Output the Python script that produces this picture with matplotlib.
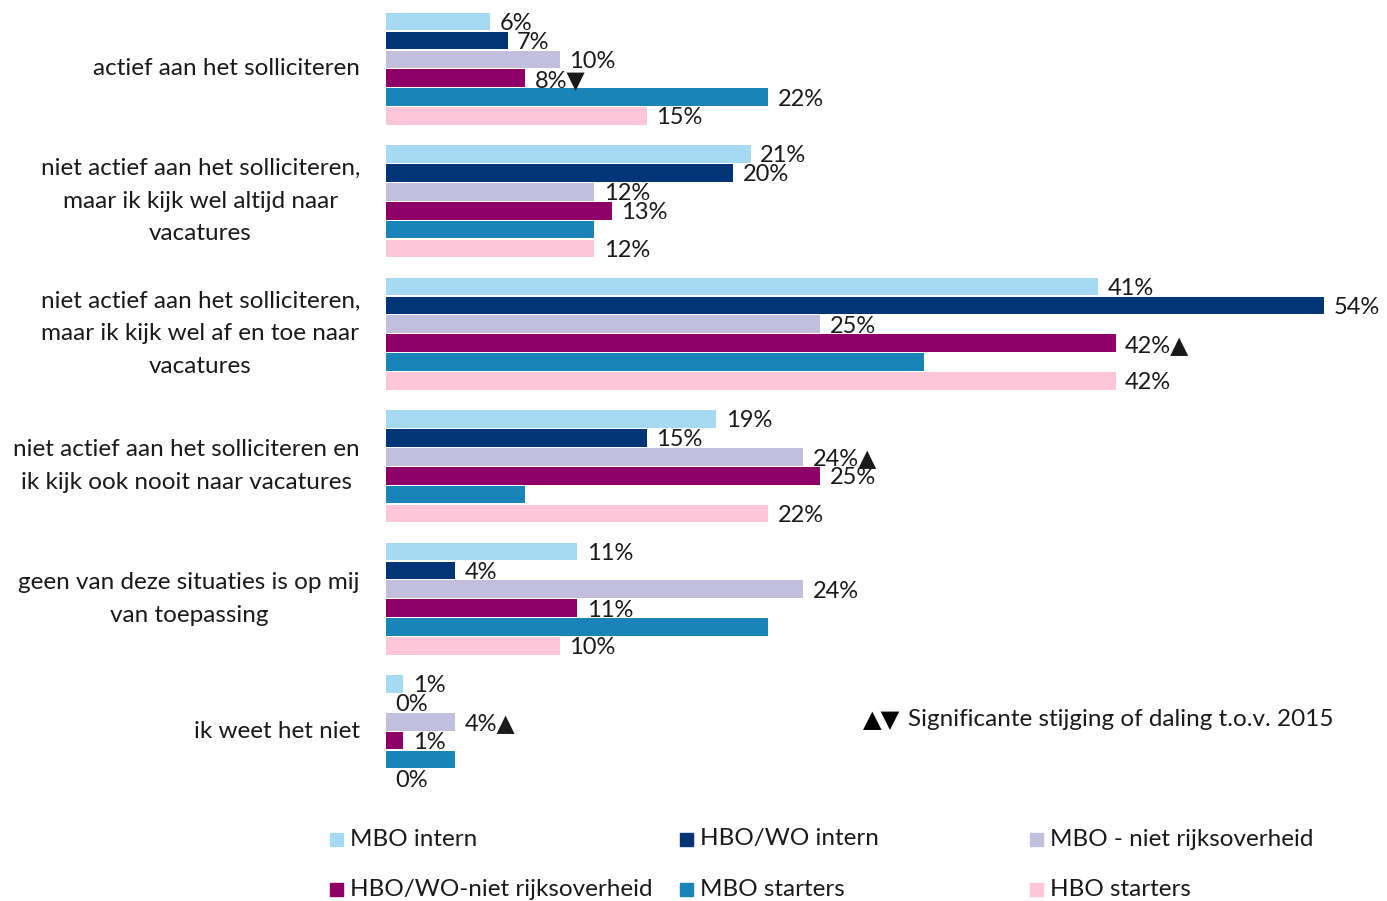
import numpy as np
import matplotlib.pyplot as plt
from matplotlib.patches import Rectangle

plt.rcParams['font.family'] = ['Lato', 'DejaVu Sans']

categories = ['actief aan het solliciteren',
              'niet actief aan het solliciteren,\nmaar ik kijk wel altijd naar\nvacatures',
              'niet actief aan het solliciteren,\nmaar ik kijk wel af en toe naar\nvacatures',
              'niet actief aan het solliciteren en\nik kijk ook nooit naar vacatures',
              'geen van deze situaties is op mij\nvan toepassing',
              'ik weet het niet']

series = ['MBO intern', 'HBO/WO intern', 'MBO - niet rijksoverheid',
          'HBO/WO-niet rijksoverheid', 'MBO starters', 'HBO starters']
colors = ['#A6DAF3', '#023575', '#C2BEDD', '#8E0068', '#1A84B8', '#FFC6DA']

mbo_intern = [6, 21, 41, 19, 11, 1]
hbo_intern = [7, 20, 54, 15, 4, 0]
mbo_niet_rijks = [10, 12, 25, 24, 24, 4]
hbo_niet_rijks = [8, 13, 42, 25, 11, 1]
mbo_starters = [22, 12, 31, 8, 22, 4]
hbo_starters = [15, 12, 42, 22, 10, 0]
values = [mbo_intern, hbo_intern, mbo_niet_rijks, hbo_niet_rijks, mbo_starters, hbo_starters]

# significance marks per series (▲ stijging, ▼ daling)
marks_mbo_niet_rijks = ['', '', '', '▲', '', '▲']
marks_hbo_niet_rijks = ['▼', '', '▲', '', '', '']
marks = [[''] * 6, [''] * 6, marks_mbo_niet_rijks, marks_hbo_niet_rijks, [''] * 6, [''] * 6]

# which value labels are visible in the original
show_mbo_starters = [True, False, False, False, False, False]
shown = [[True] * 6, [True] * 6, [True] * 6, [True] * 6, show_mbo_starters, [True] * 6]

fig = plt.figure(figsize=(13.87, 9.01), dpi=100)
ax = fig.add_axes([386 / 1387, 1 - 788 / 901, (1324 - 386) / 1387, 776 / 901])

n_ser = len(series)
slot = n_ser + 1
fs = 17.5

for j in range(n_ser):
    y = np.arange(len(categories)) * slot + j + 0.5
    ax.barh(y, values[j], height=0.93, color=colors[j])
    for i in range(len(categories)):
        if not shown[j][i]:
            continue
        ax.text(values[j][i] + 0.55, y[i] + 0.1, f'{values[j][i]}%' + marks[j][i],
                va='center', ha='left', fontsize=17, color='#1a1a1a', clip_on=False)

ax.set_xlim(0, 54)
ax.set_ylim(len(categories) * slot - 1, 0)
ax.axis('off')

for i, cat in enumerate(categories):
    yc = i * slot + n_ser / 2
    ax.text(-1.5, yc, cat, ha='right', va='center', multialignment='center',
            fontsize=fs, linespacing=1.68, color='#1a1a1a')

# legend, 3 per row
for k, name in enumerate(series):
    col, row = k % 3, k // 3
    x = (330 + col * 350) / 1387
    yy = 1 - (839 + row * 50) / 901
    fig.add_artist(Rectangle((x, yy - 7 / 901), 13 / 1387, 13 / 901,
                             transform=fig.transFigure, color=colors[k]))
    fig.text(x + 20 / 1387, yy, name, va='center', ha='left', fontsize=fs, color='#1a1a1a')

fig.text(863 / 1387, 1 - 720 / 901, '▲▼', va='center', ha='left', fontsize=fs,
         family=['DejaVu Sans'], color='black')
fig.text(908 / 1387, 1 - 720 / 901, 'Significante stijging of daling t.o.v. 2015',
         va='center', ha='left', fontsize=fs, color='#1a1a1a')

fig.savefig('out.png', dpi=100)
